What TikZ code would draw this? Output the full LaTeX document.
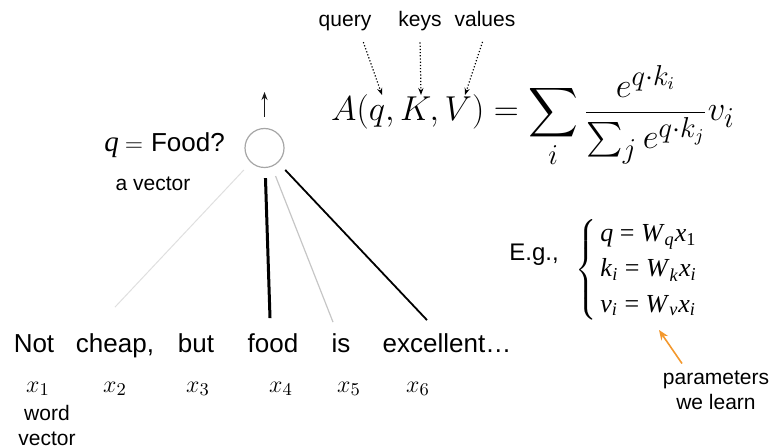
\documentclass[tikz,border=0pt]{standalone}
\usepackage{amsmath}
\usepackage{exscale}
\usepackage{fontspec}
\setmainfont{Liberation Sans}
\newfontfamily\tms{Liberation Serif}
\usetikzlibrary{arrows.meta}
\definecolor{paramorange}{RGB}{243,152,45}
\newcommand{\tvar}[1]{\textit{#1}}
\newcommand{\tsub}[1]{\textsubscript{\textit{#1}}}

\begin{document}
\begin{tikzpicture}[x=0.5pt, y=-0.5pt, >=Stealth,
    word/.style={font=\fontsize{13}{16}\selectfont, anchor=base},
    xlab/.style={font=\fontsize{12.5}{14}\selectfont, anchor=base},
    note/.style={font=\fontsize{10.5}{12.5}\selectfont, align=center},
    dotarrow/.style={-{Stealth[length=3.5pt,width=2.6pt]}, densely dotted, line width=0.6pt}]
    \useasboundingbox (0,0) rectangle (774,448);

    % Draw query node and its output
    \node[circle, draw=gray!70, line width=0.6pt, minimum size=19.5pt, inner sep=0pt] (circ) at (264.5,148) {};
    \coordinate (out) at (264.5,92);
    \draw[-{Stealth[length=4pt,width=3pt]}, gray!20!black, line width=0.6pt, shorten <=5.5pt] (circ.north) -- (out);

    \node[anchor=base, font=\fontsize{13}{15}\selectfont] (qlab) at (164.5,152)
        {{\tms\itshape\fontsize{14.5}{15}\selectfont q}\hspace{3pt}$=$\hspace{4pt}Food?};
    \node[note, anchor=base] (avec) at (153,191) {a vector};

    % Draw the sentence
    \node[word] (w1) at (34,352) {Not};
    \node[word] (w2) at (115,352) {cheap,};
    \node[word] (w3) at (196,352) {but};
    \node[word] (w4) at (273,352) {food};
    \node[word] (w5) at (341,352) {is};
    \node[word] (w6) at (447,352) {excellent…};

    % Word vectors
    \node[xlab] (x1) at (38,392) {$x_1$};
    \node[xlab] (x2) at (115,392) {$x_2$};
    \node[xlab] (x3) at (198,392) {$x_3$};
    \node[xlab] (x4) at (281,392) {$x_4$};
    \node[xlab] (x5) at (349,392) {$x_5$};
    \node[xlab] (x6) at (418,392) {$x_6$};
    \node[note] (wvec) at (47,425) {word\\vector};

    % Draw attention links
    \draw[gray!25, line width=0.5pt, shorten <=5pt] (circ) -- ([yshift=9.5pt]w2.north);
    \draw[black, line width=1.5pt, shorten <=5pt] (circ) -- ([xshift=-1.5pt,yshift=4pt]w4.north);
    \draw[gray!45, line width=0.6pt, shorten <=5pt] (circ) -- ([xshift=-4pt,yshift=2pt]w5.north);
    \draw[black, line width=0.9pt, shorten <=5pt] (circ) -- ([xshift=-10pt,yshift=3pt]w6.north);

    % Attention formula
    \node[anchor=base, font=\fontsize{19}{23}\selectfont] (attn) at (533,121)
        {$\displaystyle A(q,K,V)=\sum_i \frac{e^{q\cdot k_i}}{\sum_j e^{q\cdot k_j}}v_i$};

    % Draw query, keys, values labels
    \node[note, anchor=base] (query) at (345,27) {query};
    \node[note, anchor=base] (keys) at (420,27) {keys};
    \node[note, anchor=base] (values) at (485,27) {values};
    \coordinate (qtip) at (382,95);
    \coordinate (ktip) at (421,95);
    \coordinate (vtip) at (465,95);
    \draw[dotarrow, shorten <=2pt] ([xshift=8.5pt]query.south) -- (qtip);
    \draw[dotarrow, shorten <=2pt] (keys.south) -- (ktip);
    \draw[dotarrow, shorten <=4pt] (values.south) -- (vtip);

    % Example parameterisation
    \node[font=\fontsize{12}{14}\selectfont] (eg) at (534,255) {E.g.,};
    \node[anchor=west, font={\tms\fontsize{13}{17.5}\selectfont}] (sys) at (568,270)
        {$\left\{\,\begin{tabular}{@{}l@{}}
            \tvar{q} = \tvar{W}\tsub{q}\tvar{x}\textsubscript{1}\\
            \tvar{k}\tsub{i} = \tvar{W}\tsub{k}\tvar{x}\tsub{i}\\
            \tvar{v}\tsub{i} = \tvar{W}\tsub{v}\tvar{x}\tsub{i}
        \end{tabular}\right.$};

    \node[note] (params) at (716,390) {parameters\\we learn};
    \coordinate (wvtip) at (659,330);
    \draw[-{Stealth[length=5pt,width=4pt]}, paramorange, line width=0.8pt] ([xshift=-17pt]params.north) -- (wvtip);
\end{tikzpicture}
\end{document}
